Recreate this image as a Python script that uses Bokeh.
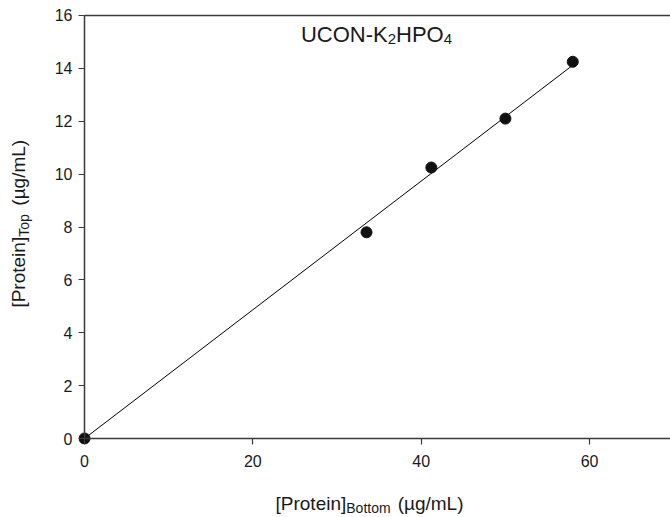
from bokeh.plotting import figure
from bokeh.layouts import row, column
from bokeh.models import Range1d, Label, FixedTicker, LinearAxis
from bokeh.embed import file_html
from bokeh.resources import INLINE
import math

# ---- data ----
protein_bottom = [0.0, 33.5, 41.2, 50.0, 58.0]
protein_top = [0.0, 7.8, 10.25, 12.1, 14.25]
fit_x = [0.0, 58.0]
fit_y = [0.0, 14.12]
x_ticks = [0, 20, 40, 60]
y_ticks = [0, 2, 4, 6, 8, 10, 12, 14, 16]
X_AXIS_END = 69.61
Y_AXIS_END = 16

FONT = "Liberation Sans"
AX = "#3a3a3a"
TXT = "#1a1a1a"

# layout geometry (pixels)
TOTAL_W, TOTAL_H = 670, 517
LEFT_W = 40
MAIN_W, MAIN_H = TOTAL_W - LEFT_W, 490
BOTTOM_H = TOTAL_H - MAIN_H
PX_X = 8.418          # pixels per x unit
PX_Y = 26.44          # pixels per y unit
PAD_X, PAD_Y, PAD_TOP = 6, 6, 2
AXIS_LEFT, AXIS_TOP = 84, 15     # canvas position of y axis line / top line

# Arial / Liberation Sans advance widths (per 1000 em)
W = {" ": 278, "[": 278, "]": 278, "(": 333, ")": 333, "/": 278, "-": 333,
     "P": 667, "r": 333, "o": 556, "t": 278, "e": 556, "i": 222, "n": 556,
     "B": 667, "m": 833, "T": 611, "p": 556, "µ": 576, "g": 556, "L": 556,
     "U": 722, "C": 722, "O": 778, "N": 722, "K": 667, "H": 722, "2": 556, "4": 556}


def tw(s, size):
    return sum(W.get(c, 556) for c in s) * size / 1000.0


def rich(fig, parts, x, y, angle=0.0):
    """parts: list of (text, size, drop, gap_before); consecutive labels centred on (x, y)."""
    total = sum(tw(t, s) + g for t, s, d, g in parts)
    off = -total / 2
    for t, s, d, g in parts:
        off += g
        xo, yo = (off, -d) if angle == 0 else (d, off)
        fig.add_layout(Label(x=x, y=y, x_offset=xo, y_offset=yo, text=t, angle=angle,
                             text_font=FONT, text_font_size=f"{s}px",
                             text_color=TXT, text_align="left", text_baseline="alphabetic"))
        off += tw(t, s)


def blank(w, h):
    f = figure(width=w, height=h, output_backend="svg", toolbar_location=None,
               x_range=Range1d(0, w), y_range=Range1d(0, h),
               x_axis_type=None, y_axis_type=None,
               min_border_left=0, min_border_right=0, min_border_top=0, min_border_bottom=0)
    f.outline_line_color = None
    f.xgrid.visible = False
    f.ygrid.visible = False
    return f


# ---- main plot ----
x_start = -PAD_X / PX_X
y_start = -PAD_Y / PX_Y
y_end = Y_AXIS_END + PAD_TOP / PX_Y
border_top = AXIS_TOP - PAD_TOP
frame_h = int(round((y_end - y_start) * PX_Y))
border_bottom = MAIN_H - border_top - frame_h
border_left = AXIS_LEFT - PAD_X - LEFT_W

p = figure(width=MAIN_W, height=MAIN_H, output_backend="svg", toolbar_location=None,
           x_range=Range1d(x_start, X_AXIS_END), y_range=Range1d(y_start, y_end),
           min_border_left=border_left, min_border_right=0,
           min_border_top=border_top, min_border_bottom=border_bottom)
p.outline_line_color = None
p.xgrid.visible = False
p.ygrid.visible = False
p.background_fill_color = "white"
p.border_fill_color = "white"

# default axes at the frame edges: ticks (reaching in to the origin lines) and tick labels
for ax, ticks, pad in ((p.xaxis[0], x_ticks, PAD_Y), (p.yaxis[0], y_ticks, PAD_X)):
    ax.ticker = FixedTicker(ticks=ticks)
    ax.minor_tick_line_color = None
    ax.major_tick_line_color = AX
    ax.major_tick_line_width = 1.2
    ax.axis_line_color = None
    ax.major_tick_in = pad
    ax.major_tick_out = 0
    ax.major_label_text_font = FONT
    ax.major_label_text_font_size = "16px"
    ax.major_label_text_color = TXT
p.xaxis.major_label_standoff = 10
p.yaxis.major_label_standoff = 6

# axis lines drawn through the data origin
for side, bounds in (("below", (0, X_AXIS_END)), ("left", (0, Y_AXIS_END))):
    line_ax = LinearAxis(ticker=FixedTicker(ticks=[]), fixed_location=0, bounds=bounds,
                         axis_line_color=AX, axis_line_width=1.5,
                         major_tick_line_color=None, minor_tick_line_color=None,
                         major_tick_in=0, major_tick_out=0, major_label_standoff=0)
    p.add_layout(line_ax, side)

# top frame line
p.segment(x0=[0], y0=[Y_AXIS_END], x1=[X_AXIS_END], y1=[Y_AXIS_END],
          line_color=AX, line_width=1.5)

p.line(fit_x, fit_y, line_color="black", line_width=1)
p.scatter(protein_bottom, protein_top, size=11, marker="circle",
          fill_color="#111111", line_color="#111111")

# title inside plot (canvas position -> data)
title_cx, title_y = 376, 34
rich(p, [("UCON-K", 22, 0, 0), ("2", 15, 5, 0), ("HPO", 22, 0, 0), ("4", 15, 5, 0)],
     (title_cx - AXIS_LEFT) / PX_X, (438.3 - title_y) / PX_Y)

# ---- y axis title (left strip) ----
left = blank(LEFT_W, MAIN_H)
rich(left, [("[Protein]", 19, 0, 0), ("Top", 14, 5, 0), ("(µg/mL)", 19, 0, 7)],
     18, MAIN_H - 239, angle=math.pi / 2)

# ---- x axis title (bottom strip) ----
bottom = blank(TOTAL_W, BOTTOM_H)
rich(bottom, [("[Protein]", 19, 0, 0), ("Bottom", 14, 5, 0), ("(µg/mL)", 19, 0, 7)],
     369, TOTAL_H - 502.5)

layout = column(row(left, p), bottom)
open("out.html", "w").write(file_html(layout, INLINE))
